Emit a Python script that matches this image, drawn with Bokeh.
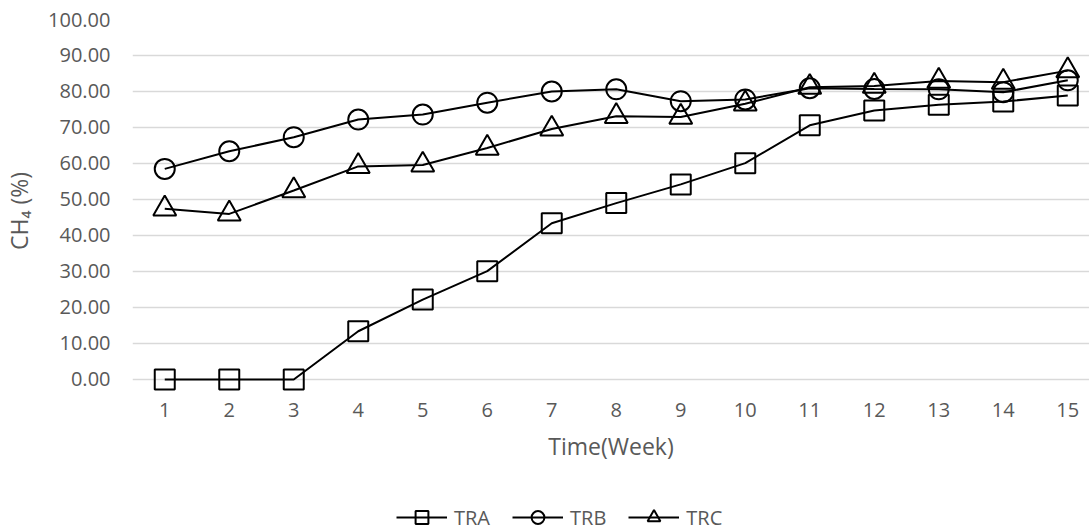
from bokeh.plotting import figure
from bokeh.layouts import column
from bokeh.models import Range1d, FixedTicker, PrintfTickFormatter, Legend, LegendItem
from bokeh.embed import file_html
from bokeh.resources import INLINE

weeks = [1, 2, 3, 4, 5, 6, 7, 8, 9, 10, 11, 12, 13, 14, 15]
tra = [0.0, 0.0, 0.0, 13.4, 22.2, 30.1, 43.4, 49.0, 54.2, 60.1, 70.6, 74.7, 76.3, 77.2, 78.9]
trb = [58.5, 63.4, 67.3, 72.2, 73.6, 76.9, 80.0, 80.6, 77.3, 77.8, 80.9, 80.7, 80.6, 79.8, 83.1]
trc = [47.4, 46.0, 52.5, 59.2, 59.6, 64.3, 69.6, 73.1, 72.9, 76.6, 81.2, 81.5, 82.9, 82.6, 85.8]
series_names = ["TRA", "TRB", "TRC"]
y_ticks = [0, 10, 20, 30, 40, 50, 60, 70, 80, 90, 100]

FONT = "Open Sans"
GREY = "#595959"
MARKERS = [("square", 20), ("circle", 20), ("triangle", 23)]

# main chart; y range padded below 0 so the markers on the 0 line are not clipped
p = figure(width=1089, height=476, output_backend="svg", toolbar_location=None,
           x_range=Range1d(0.5, 15.337), y_range=Range1d(-6.39, 100),
           min_border_left=132, min_border_right=0, min_border_top=19, min_border_bottom=74)
p.outline_line_color = None
p.background_fill_color = "white"
p.border_fill_color = "white"

p.xgrid.grid_line_color = None
p.ygrid.grid_line_color = "#d9d9d9"
p.ygrid.grid_line_width = 1.3
p.ygrid.ticker = FixedTicker(ticks=y_ticks)

p.yaxis.ticker = FixedTicker(ticks=y_ticks)
p.yaxis.formatter = PrintfTickFormatter(format="%.2f")
p.yaxis.axis_line_color = None
p.yaxis.major_tick_line_color = None
p.yaxis.minor_tick_line_color = None
p.yaxis.major_tick_out = 0
p.yaxis.major_label_standoff = 22
p.yaxis.major_label_text_font = FONT
p.yaxis.major_label_text_font_size = "20px"
p.yaxis.major_label_text_color = GREY
p.yaxis.axis_label = "CH\u2084 (%)"
p.yaxis.axis_label_text_font = FONT
p.yaxis.axis_label_text_font_size = "23px"
p.yaxis.axis_label_text_font_style = "normal"
p.yaxis.axis_label_text_color = GREY
p.yaxis.axis_label_standoff = 10

p.xaxis.ticker = FixedTicker(ticks=weeks)
p.xaxis.axis_line_color = None
p.xaxis.major_tick_line_color = None
p.xaxis.minor_tick_line_color = None
p.xaxis.major_tick_out = 0
p.xaxis.major_tick_in = 0
p.xaxis.major_label_standoff = 0
p.xaxis.major_label_text_font = FONT
p.xaxis.major_label_text_font_size = "20px"
p.xaxis.major_label_text_color = GREY
p.xaxis.axis_label = "Time(Week)"
p.xaxis.axis_label_text_font = FONT
p.xaxis.axis_label_text_font_size = "23px"
p.xaxis.axis_label_text_font_style = "normal"
p.xaxis.axis_label_text_color = GREY
p.xaxis.axis_label_standoff = 10

for vals, (mk, sz) in zip([tra, trb, trc], MARKERS):
    p.line(weeks, vals, line_color="black", line_width=2)
    p.scatter(weeks, vals, marker=mk, size=sz, fill_alpha=0, line_color="black", line_width=2)

# legend strip underneath the chart
lg = figure(width=1089, height=55, output_backend="svg", toolbar_location=None,
            x_range=Range1d(0, 1089), y_range=Range1d(0, 55),
            x_axis_type=None, y_axis_type=None, min_border=0)
lg.outline_line_color = None
lg.background_fill_color = "white"
lg.border_fill_color = "white"

items = []
for name, (mk, sz) in zip(series_names, MARKERS):
    l = lg.line([-50, -40], [-50, -50], line_color="black", line_width=2)
    s = lg.scatter([-45], [-50], marker=mk, size=sz, fill_alpha=0, line_color="black", line_width=2)
    items.append(LegendItem(label=name, renderers=[l, s]))

legend = Legend(items=items, orientation="horizontal", location=(264, -2),
                padding=0, margin=0, spacing=22, glyph_width=51, glyph_height=32,
                label_standoff=7, label_text_font=FONT, label_text_font_size="20px",
                label_text_color=GREY, border_line_color=None, background_fill_alpha=0)
lg.add_layout(legend, "center")

layout = column(p, lg, spacing=0)
open("out.html", "w").write(file_html(layout, INLINE))
